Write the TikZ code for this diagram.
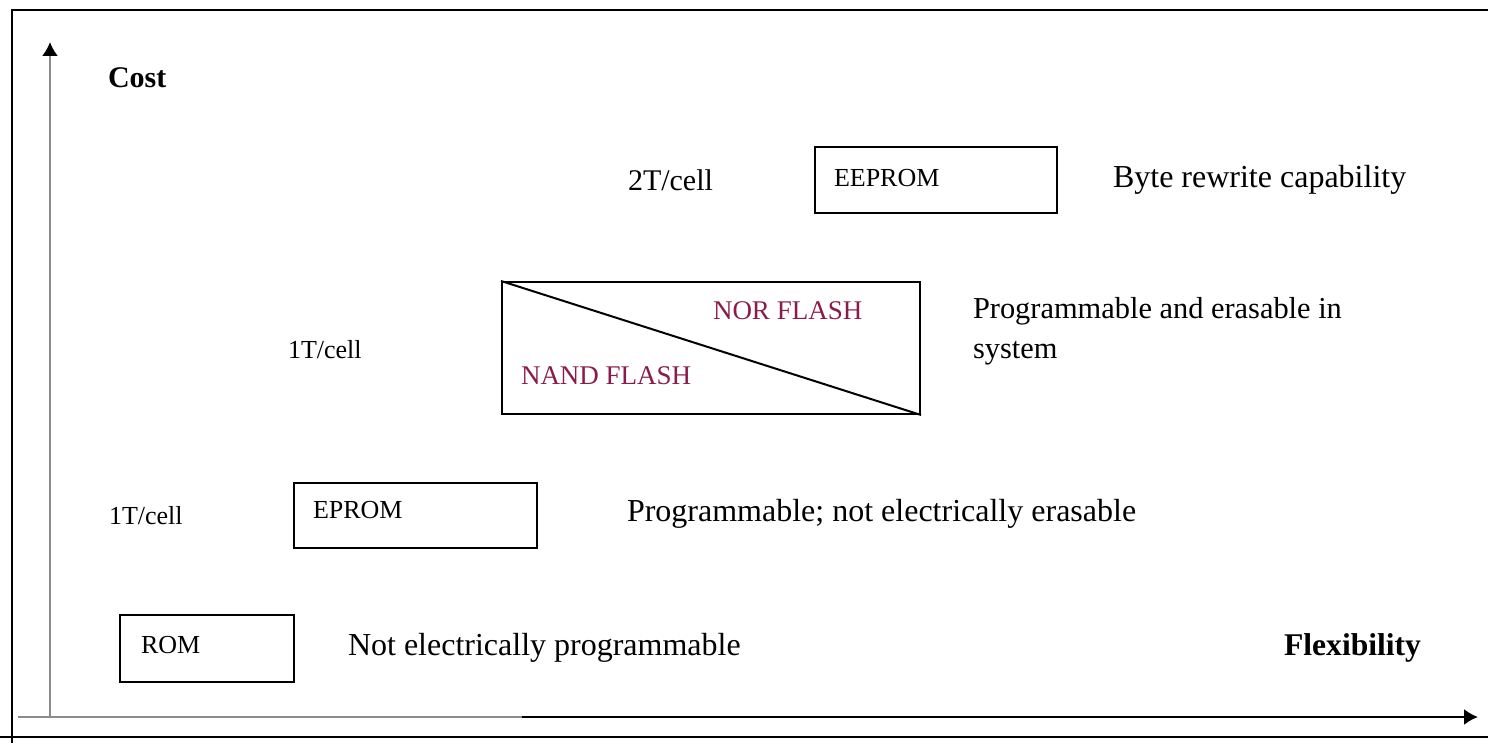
\documentclass[tikz,border=0pt]{standalone}
\usepackage{fontspec}
\setmainfont{Liberation Serif}
\usepackage{xcolor}
\usetikzlibrary{arrows.meta}
\definecolor{flashred}{HTML}{8A1C4C}
\definecolor{axisgray}{HTML}{8C8C8C}

\begin{document}
\begin{tikzpicture}[
    x=0.5pt, y=-0.5pt,
    line width=1pt,
    membox/.style={draw, inner sep=0pt},
    boxtext/.style={anchor=west, font=\fontsize{13}{15}\selectfont, inner sep=0pt},
    note/.style={anchor=west, font=\fontsize{16}{19}\selectfont, inner sep=0pt, align=left},
    celltext/.style={anchor=west, font=\fontsize{13}{15}\selectfont, inner sep=0pt},
    flashtext/.style={anchor=west, font=\fontsize{13.5}{16}\selectfont, inner sep=0pt, text=flashred},
    axistip/.style={-{Latex[length=7pt,width=8pt,color=black]}}
  ]
  \useasboundingbox (0,0) rectangle (1488,743);

  \draw (12,743) -- (12,10) -- (1488,10);
  \draw (0,737) -- (1488,737);

  \coordinate (origin) at (50,717);
  \coordinate (ytop) at (50,42);
  \coordinate (xleft) at (18,717);
  \coordinate (xgray) at (522,717);
  \coordinate (xright) at (1478,717);
  \draw[axisgray, axistip] (origin) -- (ytop);
  \draw[axisgray] (xleft) -- (xgray);
  \draw[axistip] (xgray) -- (xright);

  \node[anchor=west, inner sep=0pt, font=\fontsize{15}{18}\selectfont\bfseries] (cost) at (107,78) {Cost};
  \node[anchor=east, inner sep=0pt, font=\fontsize{15.8}{18}\selectfont\bfseries] (flex) at (1422,648) {Flexibility};

  \node[membox, minimum width=121pt, minimum height=33pt] (eeprom) at (936,180) {};
  \node[boxtext] (eepromtext) at (833,178) {EEPROM};
  \node[note, font=\fontsize{15}{18}\selectfont] (twot) at (627,180) {2T/cell};
  \node[note] (byte) at (1112,180) {Byte rewrite capability};

  \node[membox, minimum width=209pt, minimum height=66pt] (flash) at (711,348) {};
  \draw (flash.north west) -- (flash.south east);
  \node[flashtext] (nor) at (712,311) {NOR FLASH};
  \node[flashtext] (nand) at (520,376) {NAND FLASH};
  \node[celltext] (onetflash) at (287,350) {1T/cell};
  \node[note, font=\fontsize{15.2}{20}\selectfont] (inside) at (972,331) {Programmable and erasable in\\system};

  \node[membox, minimum width=121.5pt, minimum height=32.5pt] (eprom) at (415.5,515.5) {};
  \node[boxtext] (epromtext) at (312,510) {EPROM};
  \node[celltext] (onet) at (108,516) {1T/cell};
  \node[note] (notErase) at (626,514) {Programmable; not electrically erasable};

  \node[membox, minimum width=87pt, minimum height=33.5pt] (rom) at (207,648.5) {};
  \node[boxtext] (romtext) at (140,645) {ROM};
  \node[note] (notProg) at (347,648) {Not electrically programmable};
\end{tikzpicture}
\end{document}
